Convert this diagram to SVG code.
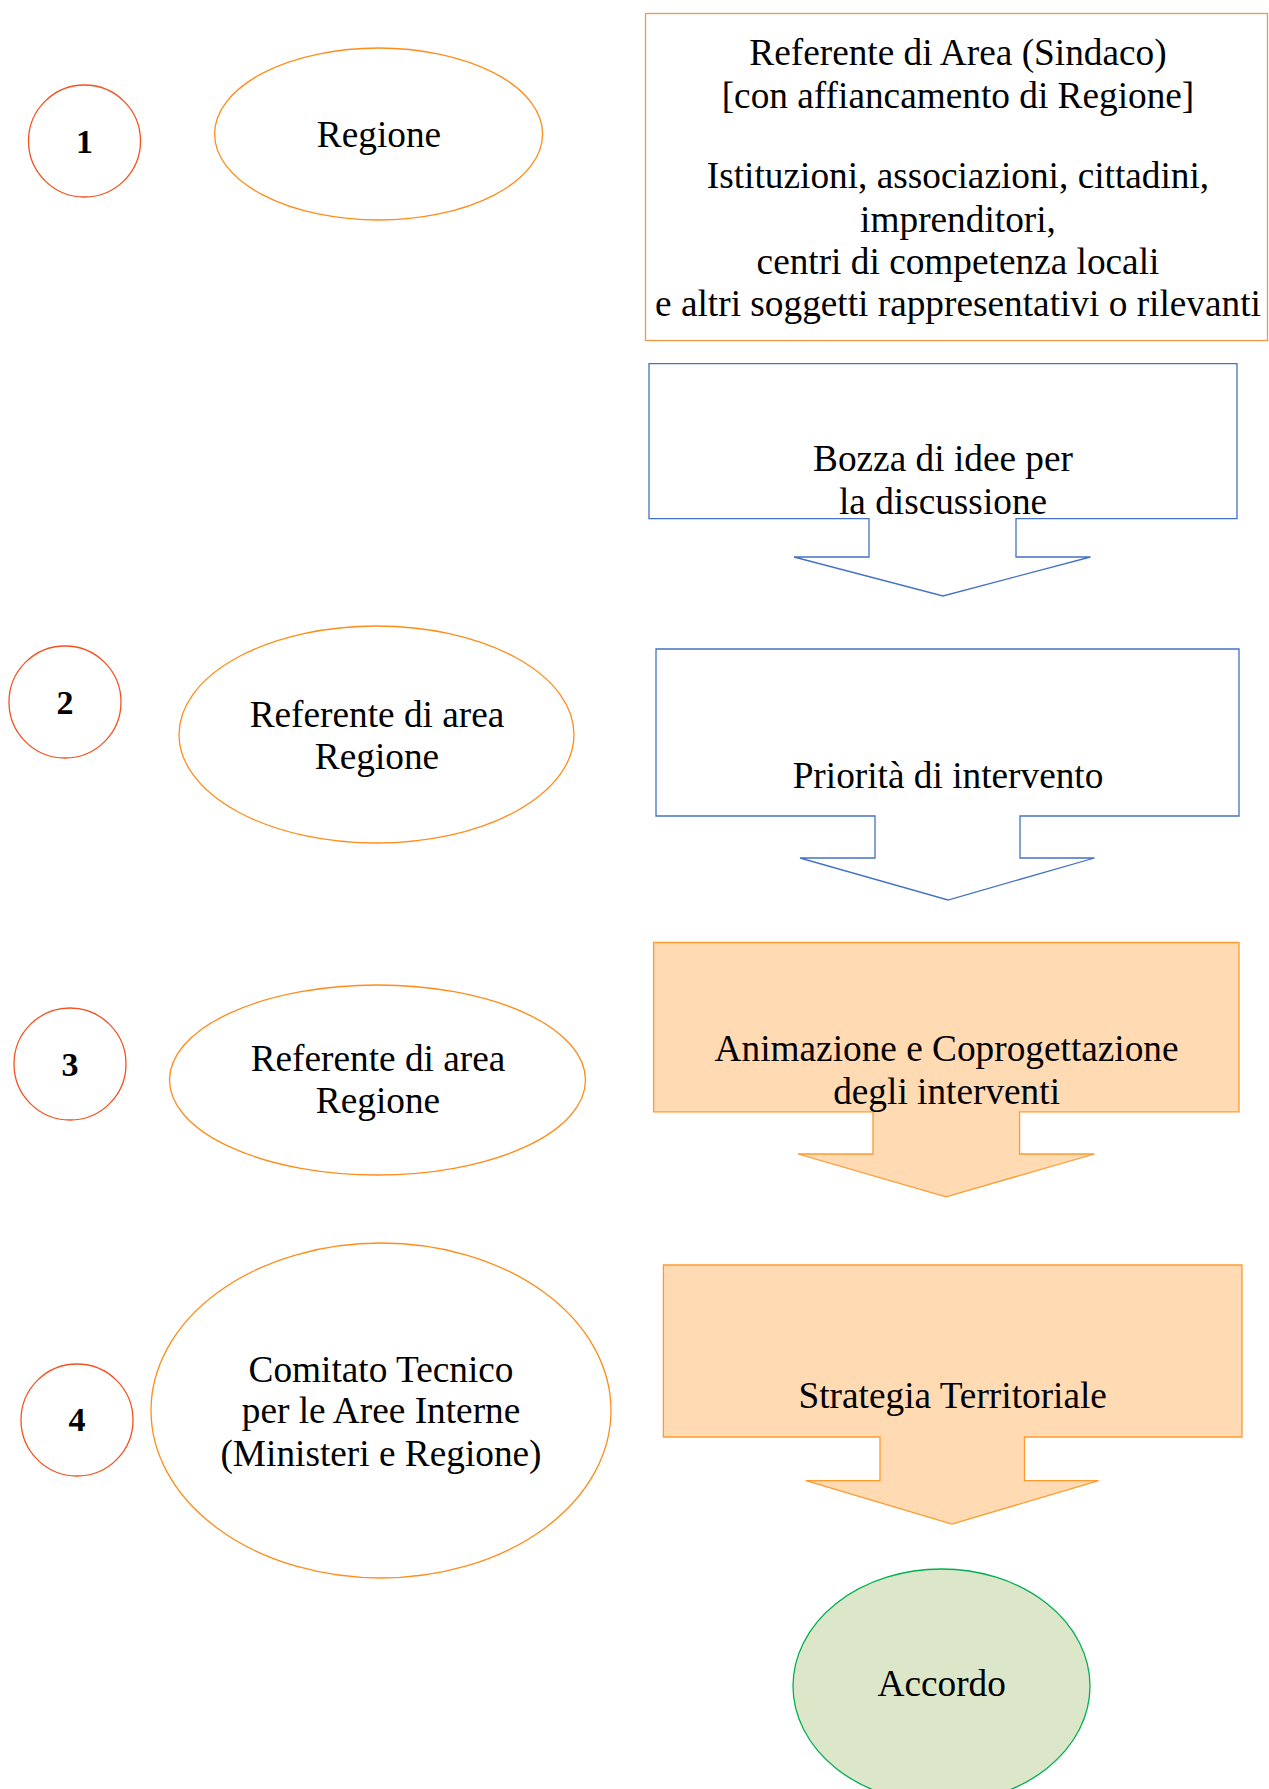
<svg xmlns="http://www.w3.org/2000/svg" width="1269" height="1789" viewBox="0 0 1269 1789">
<style>
.t{font-family:"Liberation Serif","Times New Roman",serif;font-size:37.3px;fill:#000;text-anchor:middle}
.n{font-family:"Liberation Serif","Times New Roman",serif;font-size:34px;font-weight:bold;fill:#000;text-anchor:middle}
.num{fill:#fff;stroke:#F4511E;stroke-width:1.3}
.ell{fill:#fff;stroke:#FF8C1A;stroke-width:1.3}
.blue{fill:#fff;stroke:#4472C4;stroke-width:1.3}
.peach{fill:#FFDAB3;stroke:#FF9A2E;stroke-width:1.3}
</style>
<rect width="1269" height="1789" fill="#fff"/>

<g id="step1">
<ellipse class="num" cx="84.5" cy="141" rx="56" ry="56"/>
<text class="n" x="84.5" y="153">1</text>
</g>
<g id="regione1">
<ellipse class="ell" cx="378.6" cy="134" rx="164" ry="86"/>
<text class="t" x="379" y="147">Regione</text>
</g>
<g id="referente-box">
<rect x="645.5" y="13.5" width="622" height="327" fill="#fff" stroke="#F79646" stroke-width="1.3"/>
<text class="t" x="958" y="65">Referente di Area (Sindaco)</text>
<text class="t" x="958" y="108">[con affiancamento di Regione]</text>
<text class="t" x="958" y="188">Istituzioni, associazioni, cittadini,</text>
<text class="t" x="958" y="232">imprenditori,</text>
<text class="t" x="958" y="273.5">centri di competenza locali</text>
<text class="t" x="958" y="316">e altri soggetti rappresentativi o rilevanti</text>
</g>
<g id="bozza">
<path class="blue" d="M649,363.6 H1237 V518.6 H1016 V557 H1090.5 L943,596 L794,557 H869 V518.6 H649 Z"/>
<text class="t" x="943" y="471.4">Bozza di idee per</text>
<text class="t" x="943" y="514.3">la discussione</text>
</g>

<g id="step2">
<ellipse class="num" cx="65" cy="702" rx="56" ry="56"/>
<text class="n" x="65" y="714">2</text>
</g>
<g id="referente2">
<ellipse class="ell" cx="376.5" cy="734.5" rx="197.5" ry="108.5"/>
<text class="t" x="377" y="727">Referente di area</text>
<text class="t" x="377" y="768.6">Regione</text>
</g>
<g id="priorita">
<path class="blue" d="M656,649 H1239 V816 H1020 V858 H1094.5 L948,900 L800,858 H875 V816 H656 Z"/>
<text class="t" x="948" y="787.5">Priorità di intervento</text>
</g>

<g id="step3">
<ellipse class="num" cx="70" cy="1064" rx="56" ry="56"/>
<text class="n" x="70" y="1076">3</text>
</g>
<g id="referente3">
<ellipse class="ell" cx="377.5" cy="1080" rx="208" ry="95"/>
<text class="t" x="378" y="1071">Referente di area</text>
<text class="t" x="378" y="1113">Regione</text>
</g>
<g id="animazione">
<path class="peach" d="M653.6,942.5 H1239 V1111.8 H1019.6 V1154 H1094.5 L946,1196.8 L798,1154 H873 V1111.8 H653.6 Z"/>
<text class="t" x="946.6" y="1061">Animazione e Coprogettazione</text>
<text class="t" x="946.6" y="1104">degli interventi</text>
</g>

<g id="step4">
<ellipse class="num" cx="77" cy="1420" rx="56" ry="56"/>
<text class="n" x="77" y="1431">4</text>
</g>
<g id="comitato">
<ellipse class="ell" cx="381" cy="1410.5" rx="230" ry="167.5"/>
<text class="t" x="381" y="1381.7">Comitato Tecnico</text>
<text class="t" x="381" y="1423.3">per le Aree Interne</text>
<text class="t" x="381" y="1466">(Ministeri e Regione)</text>
</g>
<g id="strategia">
<path class="peach" d="M663.4,1265 H1242 V1437 H1024.5 V1480.7 H1098.6 L952,1524 L806,1480.7 H880 V1437 H663.4 Z"/>
<text class="t" x="952.7" y="1407.5">Strategia Territoriale</text>
</g>

<g id="accordo">
<ellipse cx="941.5" cy="1686" rx="148.5" ry="117" fill="#DCE7CA" stroke="#00B050" stroke-width="1.3"/>
<text class="t" x="941.7" y="1696">Accordo</text>
</g>

<g id="connectors"></g>
</svg>
